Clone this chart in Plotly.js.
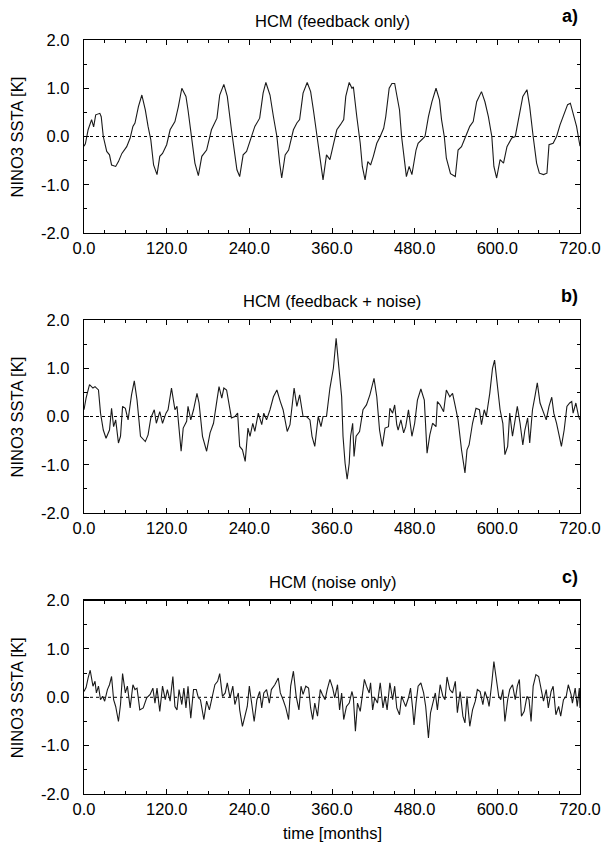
<!DOCTYPE html>
<html>
<head>
<meta charset="utf-8">
<script src="https://cdn.plot.ly/plotly-3.0.1.min.js"></script>
<style>html,body{margin:0;padding:0;background:#fff;}#chart{width:605px;height:846px;}</style>
</head>
<body>
<div id="chart"></div>
<script>
// ---- data ----
const panelTitles = ['HCM (feedback only)', 'HCM (feedback + noise)', 'HCM (noise only)'];
const panelLabels = ['a)', 'b)', 'c)'];
const yAxisLabel = 'NINO3 SSTA [K]';
const xAxisLabel = 'time [months]';
const xTickVals = [0, 120, 240, 360, 480, 600, 720];
const xTickLabels = ['0.0', '120.0', '240.0', '360.0', '480.0', '600.0', '720.0'];
const yTickVals = [-2, -1, 0, 1, 2];
const yTickLabels = ['-2.0', '-1.0', '0.0', '1.0', '2.0'];

const monthsA = [0,2,6,11,14,17,23,25,28,33,37,40,46,50,55,62,67,71,74,79,84,89,93,97,101,106,110,114,120,125,132,137,142,148,151,156,161,166,171,178,185,193,197,203,208,214,218,222,226,231,236,243,248,255,260,264,270,275,280,284,287,292,297,304,309,313,318,324,329,333,338,343,347,352,357,362,367,372,377,380,385,389,391,396,401,404,408,412,416,420,425,430,435,438,443,447,451,454,458,461,465,468,472,476,482,485,495,500,505,511,516,519,523,526,532,539,543,548,554,560,565,570,577,582,587,592,595,599,604,609,614,621,626,631,637,643,647,652,657,661,667,672,675,681,686,691,696,702,706,710,715,720];
const sstaA = [-0.2,-0.15,0.14,0.35,0.2,0.45,0.48,0.41,0,-0.31,-0.38,-0.59,-0.62,-0.52,-0.35,-0.21,-0.03,0.21,0.28,0.62,0.86,0.55,0.21,-0.07,-0.59,-0.79,-0.41,-0.35,-0.17,0.14,0.31,0.62,1.0,0.83,0.55,0,-0.55,-0.81,-0.41,-0.28,0.14,0.38,0.86,1.08,0.83,0.14,-0.28,-0.69,-0.83,-0.38,-0.31,0,0.21,0.38,0.9,1.12,0.86,0.41,0,-0.55,-0.86,-0.38,-0.28,0.14,0.28,0.35,0.9,1.12,0.93,0.55,0,-0.55,-0.9,-0.38,-0.48,-0.17,0.14,0.24,0.35,0.83,1.12,1.0,1.03,0.41,-0.14,-0.62,-0.9,-0.52,-0.59,-0.41,-0.14,0,0.17,0.41,1.0,1.1,1.1,0.86,0.55,0,-0.55,-0.83,-0.62,-0.79,-0.28,-0.14,0,0.41,0.72,1.0,0.76,0.35,0,-0.45,-0.77,-0.83,-0.28,-0.21,0,0.21,0.31,0.72,0.93,0.72,0.41,0,-0.62,-0.86,-0.48,-0.55,-0.21,-0.03,0,0.35,0.83,0.97,0.62,0,-0.55,-0.76,-0.79,-0.76,-0.17,-0.14,0,0.24,0.45,0.66,0.69,0.45,0.21,-0.2];

const monthsB = [0,3,8,13,16,21,24,28,32,37,40,43,46,50,53,56,60,64,69,73,77,82,89,93,97,102,105,110,114,119,122,127,132,135,141,144,149,151,155,159,164,167,172,178,183,188,193,196,200,203,207,211,214,219,223,226,230,234,238,241,245,248,253,258,261,265,270,275,280,285,289,295,299,305,309,313,318,323,328,331,335,340,344,347,352,357,362,366,369,374,376,379,382,385,387,390,392,395,400,405,410,415,421,425,429,433,437,442,444,448,451,454,456,460,464,467,471,476,480,484,489,494,498,502,506,511,513,517,522,526,531,535,539,543,548,553,556,559,564,569,574,577,581,584,589,593,596,599,604,608,611,615,618,622,626,629,633,637,640,644,647,651,655,658,662,667,671,675,679,682,686,690,693,697,701,705,708,710,714,718,720];
const sstaB = [0.14,0.38,0.66,0.59,0.62,0.55,0.07,-0.28,-0.45,-0.28,0.17,-0.21,-0.07,-0.55,-0.41,0.21,0.17,-0.07,0.45,0.74,0.34,-0.41,-0.52,-0.38,-0.03,0.14,-0.14,0.1,-0.14,0.07,0.14,0.59,0.14,0.21,-0.72,-0.24,-0.1,0.21,-0.07,0.14,0.48,0.28,-0.41,-0.72,-0.34,-0.14,0.34,0.62,0.38,0.59,0.55,0.21,-0.03,0,0.07,-0.62,-0.69,-0.93,-0.24,-0.41,-0.14,-0.31,0.07,-0.17,0.07,-0.07,0.14,0.41,0.55,0.31,0.14,-0.31,-0.17,0.59,0.21,0.45,0,0,-0.07,-0.41,-0.62,0,-0.21,0,0,0.59,1.0,1.62,1.21,0.41,-0.41,-0.97,-1.3,-0.97,-0.41,-0.14,-0.83,-0.41,-0.31,0.14,0.24,0.45,0.79,0.41,-0.28,-0.62,-0.24,-0.21,0.17,0.07,0.24,-0.17,-0.28,-0.07,-0.34,-0.21,0.14,-0.41,-0.14,0.34,0.57,0.34,-0.76,-0.38,-0.14,-0.21,0.31,0.24,0.1,0.55,0.41,0.48,0.21,-0.07,-0.69,-1.17,-0.69,-0.59,-0.14,0.17,0.14,-0.17,0.14,0,0.48,1.0,1.17,0.76,0.14,-0.14,-0.79,-0.62,0.07,-0.41,-0.07,0.21,-0.14,-0.59,-0.28,-0.03,-0.55,0.14,0.45,0.7,0.28,0.07,-0.07,0.21,0.4,0.07,-0.14,-0.41,-0.62,-0.28,0.21,0.28,0.31,0.07,0.28,0,-0.07];

const monthsC = [0,3,6,9,13,16,18,21,24,27,30,34,37,40,43,46,50,53,56,60,63,67,71,74,77,81,86,91,96,100,103,106,110,114,118,121,125,129,132,135,138,142,145,148,151,155,159,163,166,169,174,178,182,186,190,194,197,201,205,208,212,216,219,224,226,230,234,237,240,243,247,251,255,258,261,265,269,272,277,282,285,289,293,297,300,304,308,312,315,318,322,326,329,332,335,339,343,346,350,353,357,361,364,368,371,374,377,381,385,389,391,394,397,401,405,407,410,414,416,419,422,426,430,434,437,440,444,448,451,454,458,461,465,467,471,474,477,479,482,485,489,493,496,500,503,506,510,513,517,521,524,527,531,535,539,542,546,550,553,556,560,564,568,571,575,579,582,586,588,592,595,598,602,605,608,611,615,618,622,626,629,632,635,639,643,646,649,652,656,660,663,667,671,674,678,681,685,689,692,696,700,703,707,709,713,716,719,720];
const sstaC = [0.12,0.2,0.4,0.56,0.23,0.33,0.09,0.23,-0.05,0.02,-0.08,0.16,0.26,0.43,-0.05,-0.19,-0.5,-0.15,0.49,0.09,0.23,-0.22,0.26,0.16,0.19,-0.26,-0.22,-0.01,0.06,0.19,-0.12,0.19,-0.29,0.23,-0.05,0.16,-0.08,0.43,-0.19,-0.26,0.16,-0.15,0.19,-0.22,0.23,-0.43,0.16,0.16,-0.01,-0.05,-0.46,-0.08,-0.26,0.02,0.26,0.33,0.49,0.02,0.09,0.3,-0.01,0.23,-0.15,0.09,-0.26,-0.6,-0.39,-0.19,0.23,-0.12,-0.5,-0.05,0.12,-0.22,0.09,0.16,-0.12,0.16,0.26,0.4,0.09,-0.05,-0.22,-0.46,0.23,0.54,0.02,-0.26,0.23,0.06,0.23,0.19,-0.22,-0.46,-0.12,-0.39,0.16,0.06,-0.05,0.16,0.37,0.19,-0.01,0.26,-0.26,0.09,-0.46,-0.19,-0.12,0.12,-0.01,-0.7,-0.12,-0.29,0.09,0.37,0.23,0.09,0.3,-0.26,-0.01,-0.12,0.3,-0.22,0.02,-0.26,0.3,-0.05,0.23,-0.22,-0.36,0.02,-0.12,-0.19,-0.01,0.19,-0.22,-0.57,-0.12,0.23,0.3,0.09,-0.19,-0.84,-0.32,-0.12,0.09,-0.26,0.26,0.02,-0.05,0.42,0.16,0.09,0.33,-0.32,0.12,-0.39,-0.53,0.02,-0.6,-0.26,-0.08,0.16,0.12,-0.15,0.12,-0.05,-0.19,0.3,0.74,0.43,0.02,-0.05,0.16,-0.5,-0.05,0.16,0.26,-0.05,0.23,0.37,-0.39,-0.29,0.02,-0.05,-0.5,0.23,0.47,0.43,0.23,-0.08,0.16,-0.22,0.12,0.23,-0.36,-0.19,-0.39,-0.05,0.02,0.26,0.06,-0.12,0.19,-0.19,0.19,-0.22];

// ---- layout geometry ----
const FONT = 'Liberation Sans, Arial, sans-serif';
const domainsY = [[0.744, 1.0], [0.3727, 0.6286], [0.0, 0.2565]];
const seriesX = [monthsA, monthsB, monthsC];
const seriesY = [sstaA, sstaB, sstaC];

const traces = [];
const layout = {
  width: 605, height: 846,
  margin: {l: 84, r: 25, t: 40, b: 52},
  paper_bgcolor: '#fff', plot_bgcolor: '#fff',
  showlegend: false,
  font: {family: FONT, size: 16, color: '#000'},
  shapes: [], annotations: []
};

const titleY = [1.0252, 0.6538, 0.2816];
const labelY = [1.0318, 0.6605, 0.2878];
const yTitleY = [0.872, 0.5007, 0.1284];

for (let i = 0; i < 3; i++) {
  const sfx = i === 0 ? '' : String(i + 1);
  traces.push({
    x: seriesX[i], y: seriesY[i], type: 'scatter', mode: 'lines',
    xaxis: 'x' + sfx, yaxis: 'y' + sfx,
    line: {color: '#1a1a1a', width: 1.1}, hoverinfo: 'skip'
  });
  const axCommon = {
    showline: true, linecolor: '#000', linewidth: 1.3, mirror: 'ticks',
    ticks: 'inside', ticklen: 5, tickwidth: 1, tickcolor: '#000',
    showgrid: false, zeroline: false, fixedrange: true,
    tickfont: {family: FONT, size: 16.5, color: '#000'}
  };
  layout['xaxis' + sfx] = Object.assign({}, axCommon, {
    domain: [0, 1], anchor: 'y' + sfx, range: [0, 720],
    tickmode: 'array', tickvals: xTickVals, ticktext: xTickLabels,
    minor: {dtick: 30, tick0: 0, ticks: 'inside', ticklen: 3, tickwidth: 1, tickcolor: '#000', showgrid: false},
    ticklabelstandoff: 0
  });
  layout['yaxis' + sfx] = Object.assign({}, axCommon, {
    domain: domainsY[i], anchor: 'x' + sfx, range: [-2, 2],
    tickmode: 'array', tickvals: yTickVals, ticktext: yTickLabels,
    minor: {dtick: 0.5, tick0: 0, ticks: 'inside', ticklen: 3, tickwidth: 1, tickcolor: '#000', showgrid: false},
    ticklabelstandoff: 10
  });
  layout.shapes.push({
    type: 'line', xref: 'x' + sfx + ' domain', x0: 0, x1: 1,
    yref: 'y' + sfx, y0: 0, y1: 0,
    line: {color: '#000', width: 1, dash: 'dot'}, layer: 'below'
  });
  layout.annotations.push({
    text: panelTitles[i], xref: 'paper', yref: 'paper', x: 0.5, y: titleY[i],
    xanchor: 'center', yanchor: 'middle', showarrow: false,
    font: {family: FONT, size: 16.5, color: '#000'}
  });
  layout.annotations.push({
    text: '<b>' + panelLabels[i] + '</b>', xref: 'paper', yref: 'paper', x: 1.0, y: labelY[i],
    xanchor: 'right', yanchor: 'middle', showarrow: false,
    font: {family: FONT, size: 18, color: '#000'}
  });
  layout.annotations.push({
    text: yAxisLabel, xref: 'paper', yref: 'paper', x: -0.1351, y: yTitleY[i],
    xanchor: 'center', yanchor: 'middle', textangle: -90, showarrow: false,
    font: {family: FONT, size: 16.5, color: '#000'}
  });
}
layout.annotations.push({
  text: xAxisLabel, xref: 'paper', yref: 'paper', x: 0.5, y: -0.0517,
  xanchor: 'center', yanchor: 'middle', showarrow: false,
  font: {family: FONT, size: 16.5, color: '#000'}
});

Plotly.newPlot('chart', traces, layout, {staticPlot: true, displayModeBar: false});
</script>
</body>
</html>
